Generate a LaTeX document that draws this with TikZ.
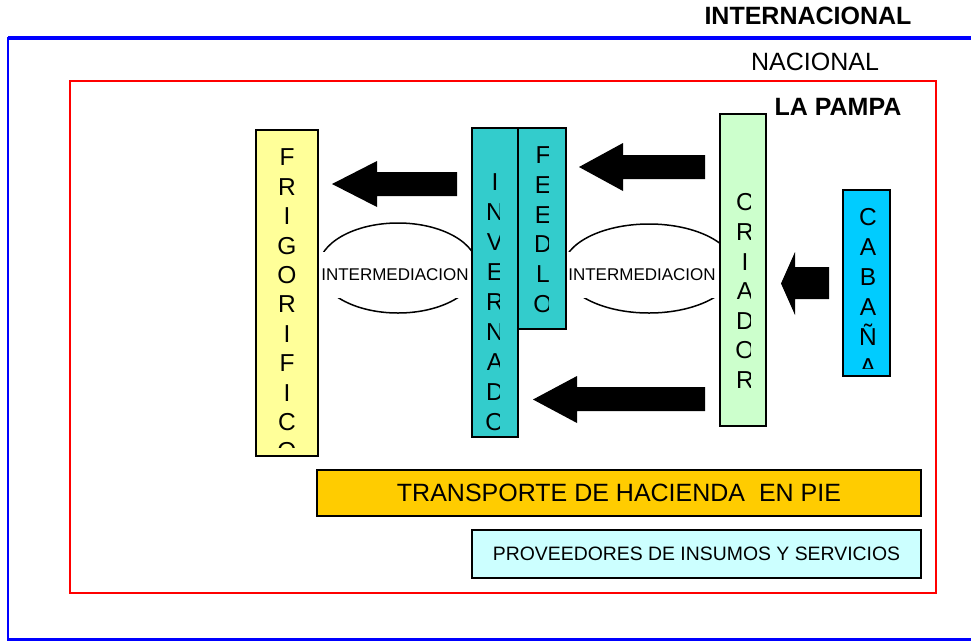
\documentclass[tikz,border=0pt]{standalone}
\usepackage{fontspec}
\setmainfont{Liberation Sans}
\usetikzlibrary{shapes.geometric}
\definecolor{teal1}{HTML}{33CCCC}
\definecolor{yel1}{HTML}{FFFF99}
\definecolor{grn1}{HTML}{CCFFCC}
\definecolor{cyn1}{HTML}{00CCFF}
\definecolor{gold1}{HTML}{FFCC00}
\definecolor{lcyn1}{HTML}{CCFFFF}
\definecolor{blu1}{HTML}{0000FF}
\definecolor{red1}{HTML}{FF0000}
\begin{document}
\begin{tikzpicture}[x=1pt,y=-1pt,
  boxnode/.style={draw=black, line width=2, rectangle, inner sep=0},
  vletter/.style={font=\fontsize{24.5}{28}\selectfont, inner sep=0, anchor=base},
  ovalnode/.style={draw=black, line width=1.5, ellipse, inner sep=0},
  imlabel/.style={fill=white, inner sep=0, font=\fontsize{17}{20}\selectfont},
  blockarrow/.style={fill=black}]
\useasboundingbox (0,0) rectangle (971,641);
% frames
\draw[blu1, line width=3.5] (971,38) -- (8,38);
\draw[blu1, line width=2.5] (8,37) -- (8,639.5) -- (971,639.5);
\draw[red1, line width=2.5] (70,81) rectangle (936,593);
% titles
\node[inner sep=0, font=\fontsize{25}{30}\selectfont\bfseries] (intl) at (808,16) {INTERNACIONAL};
\node[inner sep=0, font=\fontsize{25}{30}\selectfont] (nac) at (815,62) {NACIONAL};
\node[inner sep=0, font=\fontsize{25}{30}\selectfont\bfseries] (lp) at (838,107) {LA PAMPA};
% intermediation ovals
\node[ovalnode, minimum width=159, minimum height=90] (ov1) at (398,268) {};
\node[ovalnode, minimum width=172, minimum height=89] (ov2) at (649,268.5) {};
\node[imlabel, minimum width=158, minimum height=46] (im1) at (395,275) {INTERMEDIACION};
\node[imlabel, minimum width=156, minimum height=46] (im2) at (642,275) {INTERMEDIACION};
% boxes
\node[boxnode, fill=yel1, minimum width=62, minimum height=326] (frig) at (287,293) {};
\node[boxnode, fill=teal1, minimum width=46, minimum height=309] (inv) at (495,282.5) {};
\node[boxnode, fill=teal1, minimum width=48, minimum height=201] (feed) at (542,228.5) {};
\node[boxnode, fill=grn1, minimum width=46, minimum height=312] (cri) at (743,270) {};
\node[boxnode, fill=cyn1, minimum width=47, minimum height=186] (cab) at (866.5,283) {};
\node[boxnode, fill=gold1, minimum width=604, minimum height=46, font=\fontsize{25}{30}\selectfont] (trans) at (619,493) {TRANSPORTE DE HACIENDA\ \ EN PIE};
\node[boxnode, fill=lcyn1, minimum width=449, minimum height=48, font=\fontsize{19.4}{23}\selectfont] (prov) at (696.5,554) {PROVEEDORES DE INSUMOS Y SERVICIOS};
% stacked letters
\begin{scope}
\clip (257,131) rectangle (317,447);
\foreach \l [count=\i] in {F,R,I,G,O,R,I,F,I,C,O}
  \node[vletter] (fr\i) at (287,{157+29.4*(\i-1)+8.8}) {\l};
\end{scope}
\begin{scope}
\clip (473,129) rectangle (499,431);
\foreach \l [count=\i] in {I,N,V,E,R,N,A,D,O,R}
  \node[vletter] (in\i) at (495,{182+30*(\i-1)+8.8}) {\l};
\end{scope}
\begin{scope}
\clip (519,129) rectangle (548,321);
\foreach \l [count=\i] in {F,E,E,D,L,O,T}
  \node[vletter] (fe\i) at (543,{155+29.7*(\i-1)+8.8}) {\l};
\end{scope}
\begin{scope}
\clip (721,115) rectangle (750,418);
\foreach \l [count=\i] in {C,R,I,A,D,O,R}
  \node[vletter] (cr\i) at (745,{202+29.6*(\i-1)+8.8}) {\l};
\end{scope}
\begin{scope}
\clip (844,191) rectangle (889,368);
\foreach \l [count=\i] in {C,A,B,A,Ñ,A}
  \node[vletter] (ca\i) at (868,{217+30*(\i-1)+8.8}) {\l};
\end{scope}
% block arrows
\fill[blockarrow] (332,184) -- (377,161) -- (377,172) -- (457,172) -- (457,196) -- (377,196) -- (377,207) -- cycle;
\fill[blockarrow] (579,167) -- (623,143) -- (623,155) -- (705,155) -- (705,179) -- (623,179) -- (623,191) -- cycle;
\fill[blockarrow] (533,399.5) -- (577,376) -- (577,387) -- (705,387) -- (705,411) -- (577,411) -- (577,423) -- cycle;
\fill[blockarrow] (781,283.5) -- (795,252) -- (795,267) -- (829,267) -- (829,299) -- (795,299) -- (795,315) -- cycle;
\end{tikzpicture}
\end{document}
